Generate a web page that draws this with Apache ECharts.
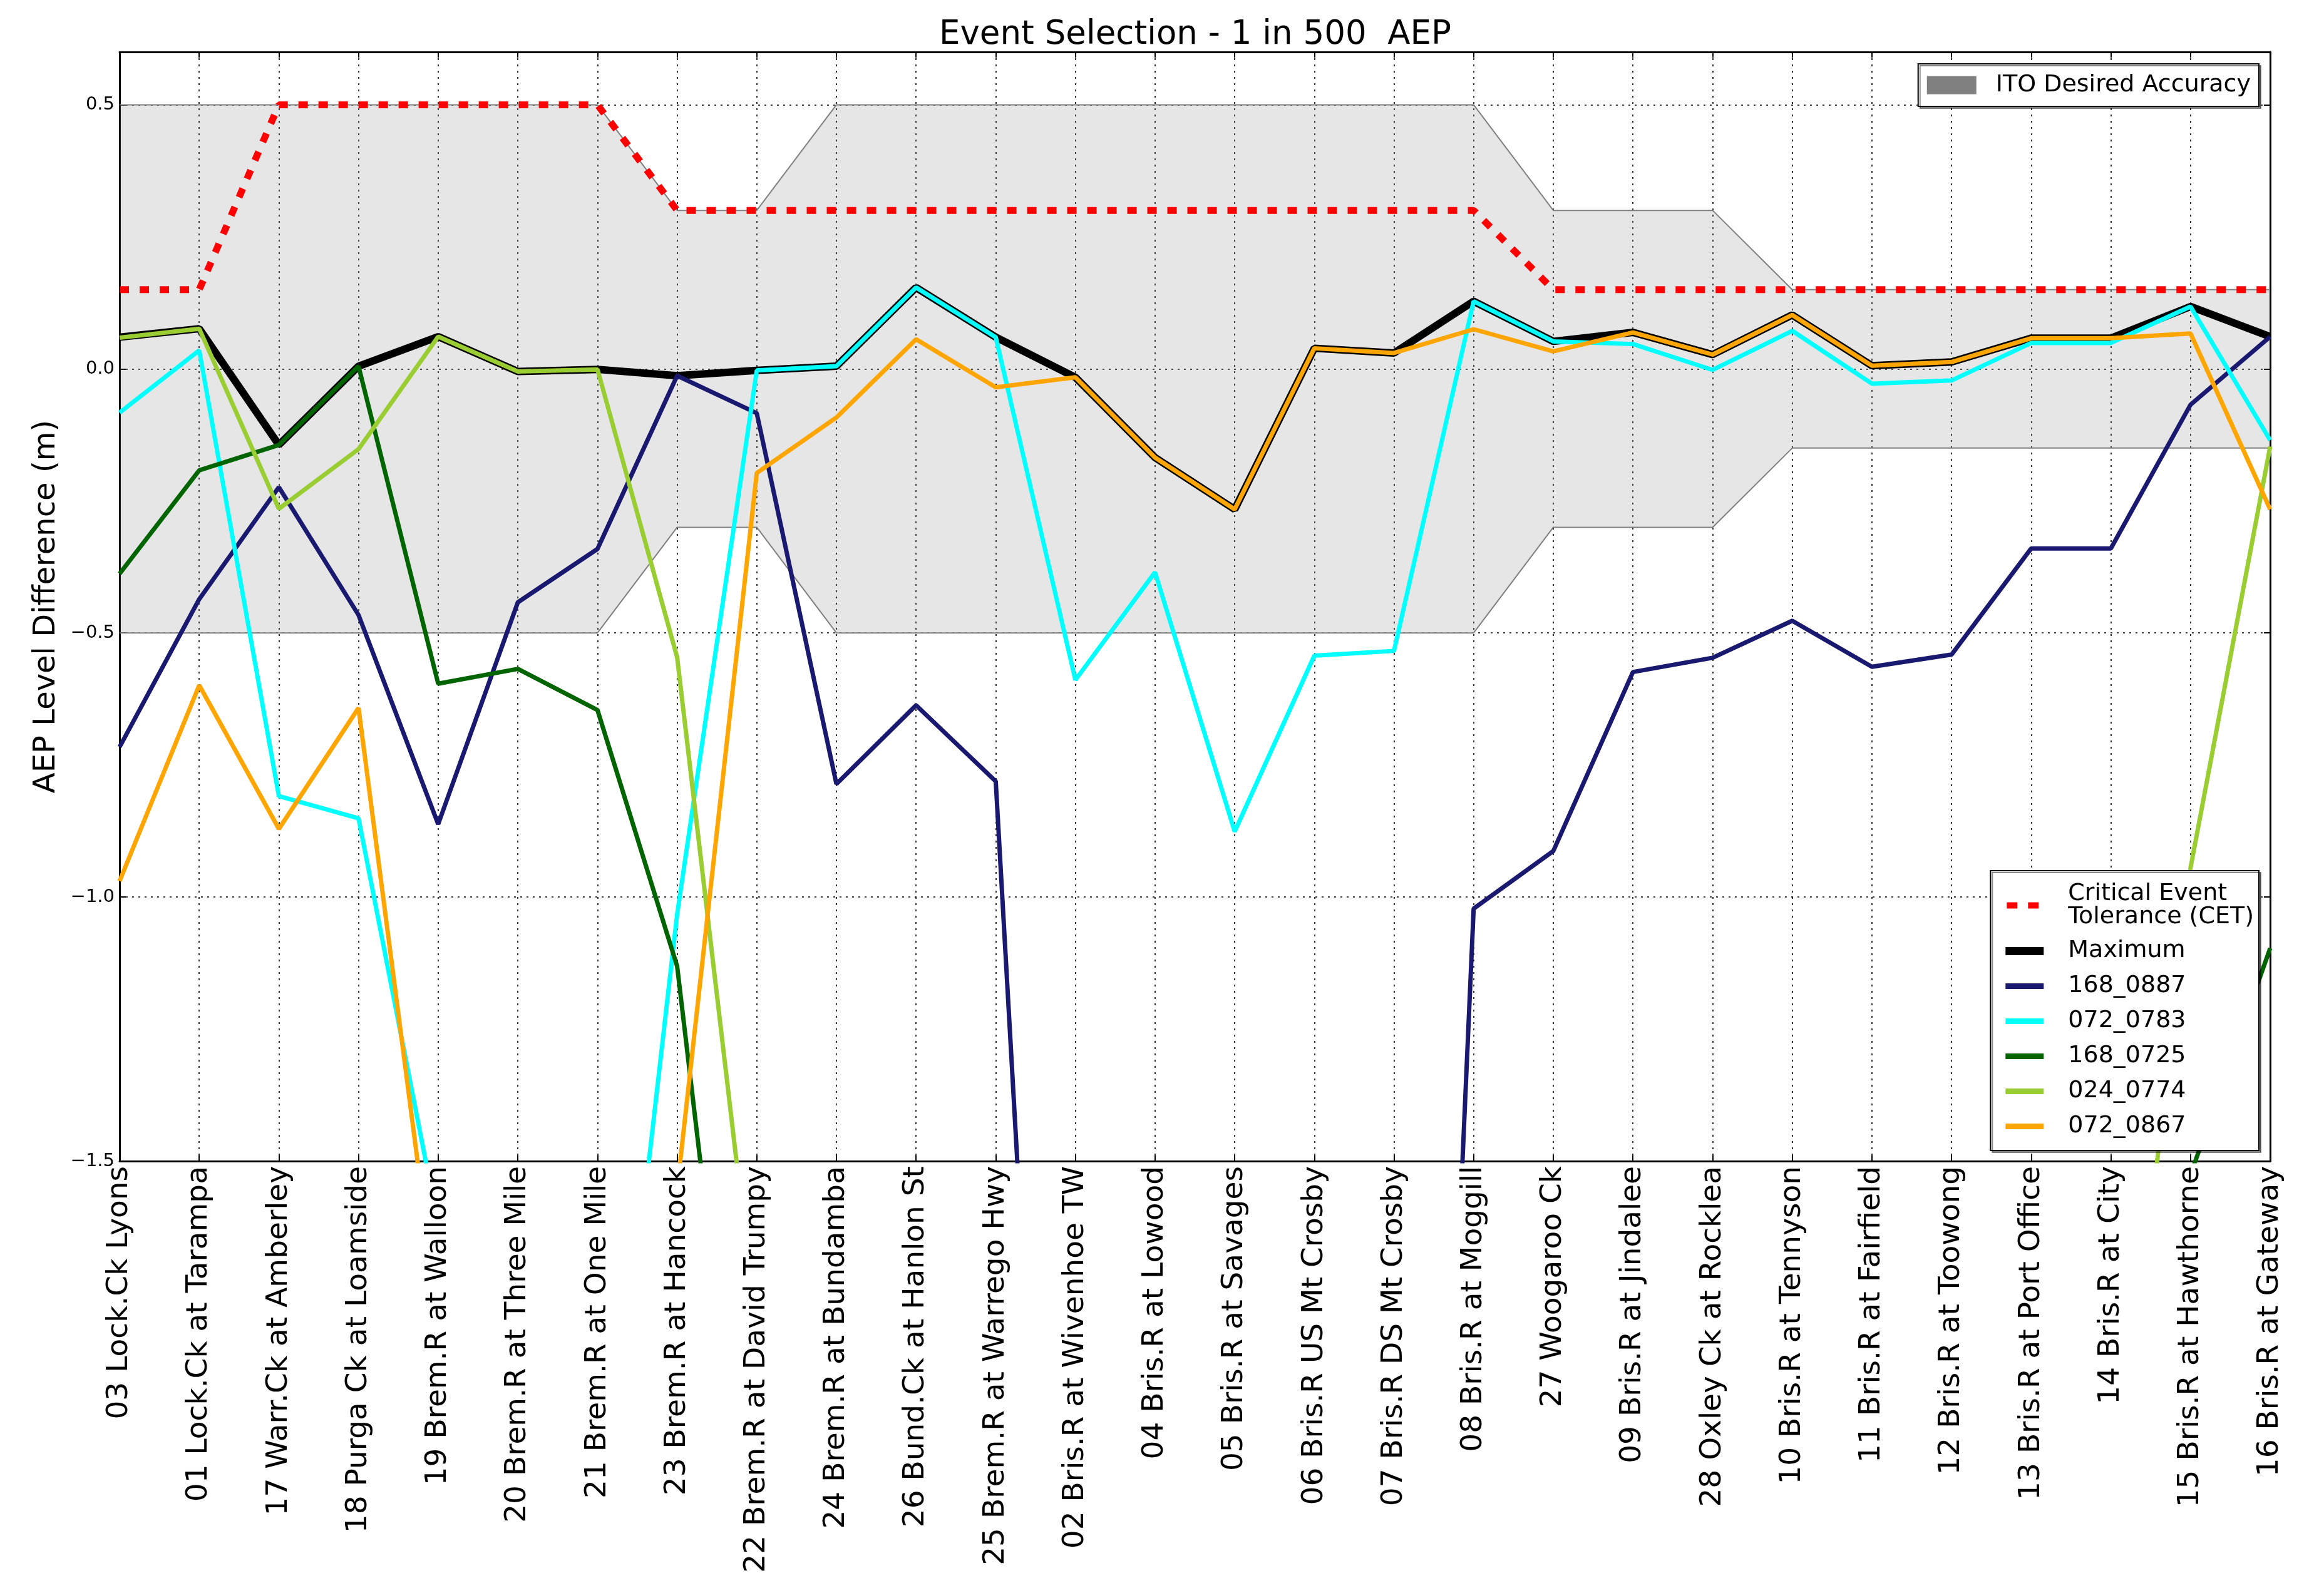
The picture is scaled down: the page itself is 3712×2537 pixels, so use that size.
<!DOCTYPE html>
<html>
<head>
<meta charset="utf-8">
<script src="https://cdn.jsdelivr.net/npm/echarts@6/dist/echarts.min.js"></script>
<style>
html,body{margin:0;padding:0;background:#ffffff;}
#chart{width:3712px;height:2537px;}
</style>
</head>
<body>
<div id="chart"></div>
<script>
// ---------------- DATA ----------------
const categories = [
  '03 Lock.Ck Lyons','01 Lock.Ck at Tarampa','17 Warr.Ck at Amberley','18 Purga Ck at Loamside',
  '19 Brem.R at Walloon','20 Brem.R at Three Mile','21 Brem.R at One Mile','23 Brem.R at Hancock',
  '22 Brem.R at David Trumpy','24 Brem.R at Bundamba','26 Bund.Ck at Hanlon St','25 Brem.R at Warrego Hwy',
  '02 Bris.R at Wivenhoe TW','04 Bris.R at Lowood','05 Bris.R at Savages','06 Bris.R US Mt Crosby',
  '07 Bris.R DS Mt Crosby','08 Bris.R at Moggill','27 Woogaroo Ck','09 Bris.R at Jindalee',
  '28 Oxley Ck at Rocklea','10 Bris.R at Tennyson','11 Bris.R at Fairfield','12 Bris.R at Toowong',
  '13 Bris.R at Port Office','14 Bris.R at City','15 Bris.R at Hawthorne','16 Bris.R at Gateway'
];

const cetTolerance = [0.15,0.15,0.5,0.5,0.5,0.5,0.5,0.3,0.3,0.3,0.3,0.3,0.3,0.3,0.3,0.3,0.3,0.3,0.15,0.15,0.15,0.15,0.15,0.15,0.15,0.15,0.15,0.15];

const itoUpper = [0.5,0.5,0.5,0.5,0.5,0.5,0.5,0.3,0.3,0.5,0.5,0.5,0.5,0.5,0.5,0.5,0.5,0.5,0.3,0.3,0.3,0.15,0.15,0.15,0.15,0.15,0.15,0.15];
const itoLower = [-0.5,-0.5,-0.5,-0.5,-0.5,-0.5,-0.5,-0.3,-0.3,-0.5,-0.5,-0.5,-0.5,-0.5,-0.5,-0.5,-0.5,-0.5,-0.3,-0.3,-0.3,-0.15,-0.15,-0.15,-0.15,-0.15,-0.15,-0.15];

const maximum = [0.060,0.076,-0.144,0.005,0.061,-0.005,-0.001,-0.013,-0.003,0.005,0.154,0.060,-0.016,-0.168,-0.266,0.039,0.030,0.128,0.052,0.069,0.027,0.102,0.006,0.013,0.058,0.058,0.118,0.061];

const ev168_0887 = [-0.716,-0.436,-0.224,-0.466,-0.862,-0.442,-0.341,-0.013,-0.084,-0.786,-0.637,-0.781,-3.44,-4.0,-4.2,-4.3,-4.43,-1.022,-0.913,-0.574,-0.547,-0.477,-0.564,-0.541,-0.340,-0.340,-0.068,0.061];

const ev072_0783 = [-0.083,0.035,-0.809,-0.851,-1.62,-2.6,-2.35,-1.033,-0.003,0.005,0.154,0.060,-0.589,-0.385,-0.876,-0.543,-0.534,0.128,0.052,0.047,-0.002,0.072,-0.028,-0.022,0.049,0.049,0.118,-0.135];

const ev168_0725 = [-0.388,-0.192,-0.144,0.005,-0.596,-0.568,-0.646,-1.131,-2.40,-3.0,-3.0,-3.0,-3.0,-3.0,-3.0,-3.0,-3.0,-3.0,-3.0,-3.0,-3.0,-3.0,-3.0,-3.0,-3.0,-3.0,-1.526,-1.097];

const ev024_0774 = [0.059,0.076,-0.265,-0.152,0.061,-0.005,-0.001,-0.546,-1.826,-3.0,-3.0,-3.0,-3.0,-3.0,-3.0,-3.0,-3.0,-3.0,-3.0,-3.0,-3.0,-3.0,-3.0,-3.0,-3.0,-2.27,-0.945,-0.147];

const ev072_0867 = [-0.970,-0.599,-0.871,-0.642,-1.80,-3.0,-3.0,-1.553,-0.197,-0.092,0.056,-0.035,-0.016,-0.168,-0.266,0.039,0.030,0.075,0.033,0.069,0.027,0.102,0.006,0.013,0.058,0.058,0.067,-0.266];

const yTickValues = { min: -1.5, max: 0.6, step: 0.5 };

// ---------------- CHART ----------------
const FONT = 'DejaVu Sans';
const chart = echarts.init(document.getElementById('chart'), null, {renderer: 'canvas', width: 3712, height: 2537});

const itoWidth = itoUpper.map((u, i) => +(u - itoLower[i]).toFixed(4));

function evSeries(name, data, color, width) {
  return {
    name: name, type: 'line', data: data, symbol: 'none', showSymbol: false,
    color: color, itemStyle: {color: color},
    lineStyle: {color: color, width: width},
    emphasis: {disabled: true}, z: 2
  };
}

const thinIcon = 'path://M0,2h61v9h-61z M0,0h0.01v0.01h-0.01z M60.99,12.99h0.01v0.01h-0.01z';
const thickIcon = 'path://M0,0h61v13h-61z';
const cetIcon = 'path://M2,1.5h17v10h-17z M36,1.5h17v10h-17z M0,0h0.01v0.01h-0.01z M60.99,12.99h0.01v0.01h-0.01z';

const fmtY = v => {
  const s = Math.abs(v).toFixed(1);
  return v < -1e-9 ? '\u2212' + s : s;
};

const gridLine = {show: true, lineStyle: {color: '#000', width: 1.6, type: [3, 7]}};

const option = {
  animation: false,
  backgroundColor: '#ffffff',
  title: {
    text: 'Event Selection - 1 in 500  AEP',
    left: 1909, top: 30, textAlign: 'center', padding: 0,
    textStyle: {fontFamily: FONT, fontSize: 53, fontWeight: 'normal', color: '#000'}
  },
  grid: {left: 191, right: 86, top: 83, bottom: 682, containLabel: false},
  xAxis: [
    {
      type: 'category', data: categories, boundaryGap: false, position: 'bottom',
      axisLine: {show: true, onZero: false, lineStyle: {color: '#000', width: 3}},
      axisTick: {show: true, inside: true, length: 9, interval: 0, lineStyle: {color: '#000', width: 2}},
      axisLabel: {interval: 0, rotate: 90, fontFamily: FONT, fontSize: 47, color: '#000', margin: 8},
      splitLine: Object.assign({interval: 0}, gridLine)
    },
    {
      type: 'category', data: categories, boundaryGap: false, position: 'top',
      axisLine: {show: true, onZero: false, lineStyle: {color: '#000', width: 3}},
      axisTick: {show: true, inside: true, length: 9, interval: 0, lineStyle: {color: '#000', width: 2}},
      axisLabel: {show: false}, splitLine: {show: false}
    }
  ],
  yAxis: [
    {
      type: 'value', min: yTickValues.min, max: yTickValues.max, interval: yTickValues.step, position: 'left',
      axisLine: {show: true, onZero: false, lineStyle: {color: '#000', width: 3}},
      axisTick: {show: true, inside: true, length: 10, lineStyle: {color: '#000', width: 2}},
      axisLabel: {show: true, showMaxLabel: false, fontFamily: FONT, fontSize: 29, color: '#000', margin: 8, formatter: fmtY},
      splitLine: gridLine,
      name: 'AEP Level Difference (m)', nameLocation: 'middle', nameRotate: 90, nameGap: 92,
      nameTextStyle: {fontFamily: FONT, fontSize: 48, color: '#000'}
    },
    {
      type: 'value', min: yTickValues.min, max: yTickValues.max, interval: yTickValues.step, position: 'right',
      axisLine: {show: true, onZero: false, lineStyle: {color: '#000', width: 3}},
      axisTick: {show: true, inside: true, length: 10, lineStyle: {color: '#000', width: 2}},
      axisLabel: {show: false}, splitLine: {show: false}
    }
  ],
  legend: [
    {
      data: [{name: 'ITO Desired Accuracy', icon: 'rect', itemStyle: {color: '#808080', borderWidth: 0, opacity: 1}}],
      right: 104, top: 102, orient: 'horizontal',
      padding: [15, 13, 15, 14], itemWidth: 79, itemHeight: 29,
      borderColor: '#000', borderWidth: 2, backgroundColor: '#fff',
      shadowColor: 'rgba(0,0,0,0.45)', shadowOffsetX: 3, shadowOffsetY: 3, shadowBlur: 0,
      selectedMode: false, z: 10,
      textStyle: {fontFamily: FONT, fontSize: 38, color: '#000', lineHeight: 38, padding: [0, 0, 0, 26]}
    },
    {
      data: [
        {name: 'Critical Event Tolerance (CET)', icon: cetIcon, itemStyle: {color: '#ff0000', borderWidth: 0, opacity: 1},
         textStyle: {lineHeight: 37}},
        {name: 'Maximum', icon: thickIcon, itemStyle: {color: '#000000', borderWidth: 0, opacity: 1}},
        {name: '168_0887', icon: thinIcon, itemStyle: {color: '#191970', borderWidth: 0, opacity: 1}},
        {name: '072_0783', icon: thinIcon, itemStyle: {color: '#00ffff', borderWidth: 0, opacity: 1}},
        {name: '168_0725', icon: thinIcon, itemStyle: {color: '#006400', borderWidth: 0, opacity: 1}},
        {name: '024_0774', icon: thinIcon, itemStyle: {color: '#9acd32', borderWidth: 0, opacity: 1}},
        {name: '072_0867', icon: thinIcon, itemStyle: {color: '#ffa500', borderWidth: 0, opacity: 1}}
      ],
      formatter: name => name === 'Critical Event Tolerance (CET)' ? 'Critical Event\nTolerance (CET)' : name,
      right: 104, top: 1391, orient: 'vertical',
      padding: [18, 8, 18, 24], itemWidth: 61, itemHeight: 13, itemGap: 15,
      borderColor: '#000', borderWidth: 2, backgroundColor: '#fff',
      shadowColor: 'rgba(0,0,0,0.45)', shadowOffsetX: 3, shadowOffsetY: 3, shadowBlur: 0,
      selectedMode: false, z: 10,
      textStyle: {fontFamily: FONT, fontSize: 38, color: '#000', lineHeight: 41, padding: [0, 0, 0, 34]}
    }
  ],
  series: [
    {
      name: 'itoLowerEdge', type: 'line', data: itoLower, stack: 'ito', stackStrategy: 'all',
      symbol: 'none', showSymbol: false, silent: true,
      lineStyle: {color: '#808080', width: 2}, itemStyle: {color: '#808080'},
      emphasis: {disabled: true}, z: 1
    },
    {
      name: 'ITO Desired Accuracy', type: 'line', data: itoWidth, stack: 'ito', stackStrategy: 'all',
      symbol: 'none', showSymbol: false, silent: true,
      lineStyle: {color: '#808080', width: 2}, itemStyle: {color: '#808080'},
      areaStyle: {color: '#808080', opacity: 0.2},
      emphasis: {disabled: true}, z: 1
    },
    {
      name: 'Critical Event Tolerance (CET)', type: 'line', data: cetTolerance,
      symbol: 'none', showSymbol: false, color: '#ff0000', itemStyle: {color: '#ff0000'},
      lineStyle: {color: '#ff0000', width: 11, type: [15, 17], cap: 'butt'},
      emphasis: {disabled: true}, z: 2
    },
    evSeries('Maximum', maximum, '#000000', 12),
    evSeries('168_0887', ev168_0887, '#191970', 7),
    evSeries('072_0783', ev072_0783, '#00ffff', 7),
    evSeries('168_0725', ev168_0725, '#006400', 7),
    evSeries('024_0774', ev024_0774, '#9acd32', 7),
    evSeries('072_0867', ev072_0867, '#ffa500', 7)
  ]
};

chart.setOption(option);
</script>
</body>
</html>
